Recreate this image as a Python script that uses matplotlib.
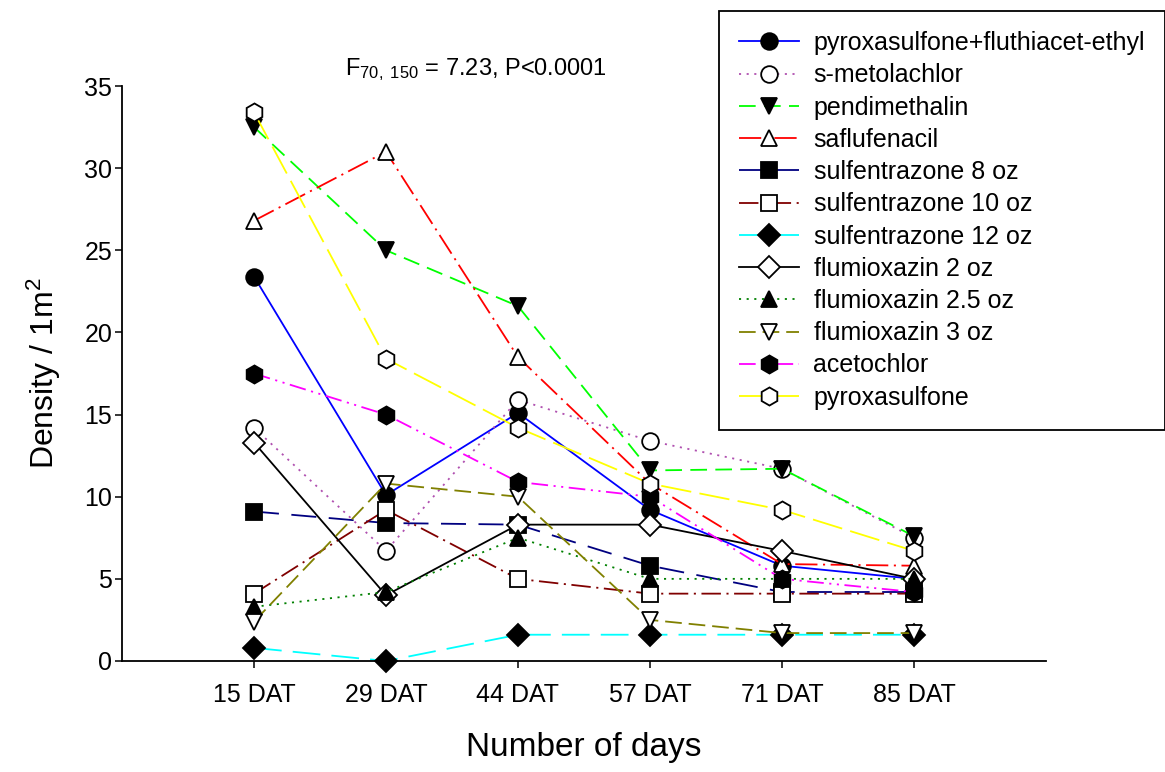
import numpy as np
import matplotlib
matplotlib.use('Agg')
import matplotlib.pyplot as plt

plt.rcParams['font.family'] = ['Liberation Sans', 'DejaVu Sans']
plt.rcParams['mathtext.fontset'] = 'custom'
plt.rcParams['mathtext.rm'] = 'Liberation Sans'
plt.rcParams['mathtext.it'] = 'Liberation Sans:italic'
plt.rcParams['lines.scale_dashes'] = False

# weed density per treatment at each sampling date
days = ['15 DAT', '29 DAT', '44 DAT', '57 DAT', '71 DAT', '85 DAT']

pyrox_fluth = [23.4, 10.1, 15.1, 9.2, 5.8, 5.0]
s_metolachlor = [14.2, 6.7, 15.9, 13.4, 11.7, 7.5]
pendimethalin = [32.5, 25.0, 21.6, 11.6, 11.7, 7.6]
saflufenacil = [26.8, 31.0, 18.5, 10.8, 5.9, 5.8]
sulf_8 = [9.1, 8.4, 8.3, 5.8, 4.2, 4.2]
sulf_10 = [4.1, 9.2, 5.0, 4.1, 4.1, 4.1]
sulf_12 = [0.8, 0.0, 1.6, 1.6, 1.6, 1.6]
flum_2 = [13.3, 4.0, 8.3, 8.3, 6.7, 5.0]
flum_25 = [3.3, 4.2, 7.5, 5.0, 5.0, 5.0]
flum_3 = [2.4, 10.8, 10.0, 2.5, 1.7, 1.7]
acetochlor = [17.5, 15.0, 10.9, 10.0, 5.0, 4.2]
pyroxasulfone = [33.4, 18.4, 14.2, 10.8, 9.2, 6.7]

# (label, values, line colour, linestyle, marker, filled)
series = [
    ('pyroxasulfone+fluthiacet-ethyl', pyrox_fluth, '#0000FF', '-', 'o', True),
    ('s-metolachlor', s_metolachlor, '#B050B0', (0, (1.5, 4)), 'o', False),
    ('pendimethalin', pendimethalin, '#00FF00', (0, (12, 6)), 'v', True),
    ('saflufenacil', saflufenacil, '#FF0000', (0, (16, 4, 1.5, 4)), '^', False),
    ('sulfentrazone 8 oz', sulf_8, '#000080', (0, (18, 9)), 's', True),
    ('sulfentrazone 10 oz', sulf_10, '#800000', (0, (14, 4, 1.5, 4)), 's', False),
    ('sulfentrazone 12 oz', sulf_12, '#00FFFF', (0, (20, 8)), 'D', True),
    ('flumioxazin 2 oz', flum_2, '#000000', '-', 'D', False),
    ('flumioxazin 2.5 oz', flum_25, '#008000', (0, (1.5, 4)), '^', True),
    ('flumioxazin 3 oz', flum_3, '#808000', (0, (12, 5)), 'v', False),
    ('acetochlor', acetochlor, '#FF00FF', (0, (12, 4, 1.5, 4, 1.5, 4)), 'h', True),
    ('pyroxasulfone', pyroxasulfone, '#FFFF00', (0, (22, 6)), 'h', False),
]

fig = plt.figure(figsize=(11.65, 7.72), dpi=100)
ax = fig.add_axes([122 / 1165, 1 - 661 / 772, (1046 - 122) / 1165, (661 - 86) / 772])

x = np.arange(1, len(days) + 1)
for label, vals, color, ls, mk, filled in series:
    ms = 13 if mk == 'h' else (11 if mk in ('s', 'D') else 12)
    ax.plot(x, vals, color=color, linestyle=ls, linewidth=1.3,
            marker=mk, markersize=ms, markeredgecolor='black',
            markerfacecolor='black' if filled else 'white',
            markeredgewidth=1.3, label=label, clip_on=False)

ax.set_xlim(0, 7)
ax.set_ylim(0, 35)
ax.set_xticks(x)
ax.set_xticklabels(days)
ax.set_yticks(np.arange(0, 36, 5))
ax.spines['top'].set_visible(False)
ax.spines['right'].set_visible(False)
for sp in ('left', 'bottom'):
    ax.spines[sp].set_linewidth(1.3)
ax.tick_params(axis='both', direction='out', length=5, width=1.1, labelsize=18)
ax.tick_params(axis='x', pad=11)
ax.tick_params(axis='y', pad=2)

ax.set_xlabel('Number of days', fontsize=24, labelpad=18)
ax.set_ylabel('Density / 1m$^2$', fontsize=23, labelpad=15)

fig.text(476 / 1165, 1 - 70 / 772, r'F$_{\mathrm{70,\ 150}}$ = 7.23, P<0.0001',
         fontsize=17, ha='center', va='center')

leg = ax.legend(loc='upper right', bbox_to_anchor=(1.0, 1 - 11 / 772),
                bbox_transform=fig.transFigure, fontsize=18, frameon=True,
                fancybox=False, framealpha=1, edgecolor='black',
                handlelength=2.4, handletextpad=0.6, borderpad=0.8,
                labelspacing=0.33, borderaxespad=0)
leg.get_frame().set_linewidth(1.3)

fig.savefig('out.png', dpi=100)
